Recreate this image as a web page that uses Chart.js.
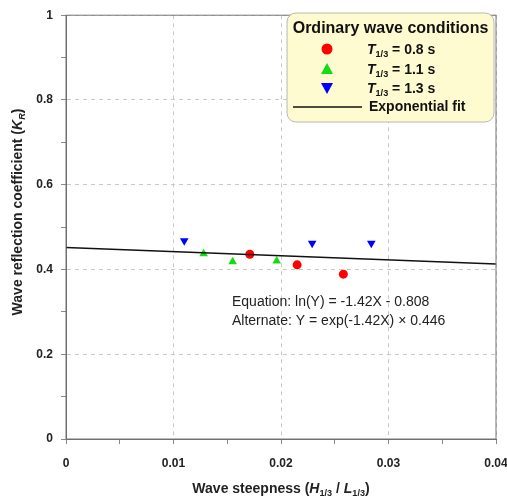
<!DOCTYPE html>
<html lang="en">
<head>
    <title>Wave reflection</title>
    <script src="https://cdn.jsdelivr.net/npm/chart.js"></script>
    <style>
        body { margin: 0; background: #fff; }
        #wrap { width: 507px; height: 498px; }
    </style>
</head>
<body>
    <div id="wrap"><canvas id="chart"></canvas></div>
    <script>
        // data
        const redX = [0.0171, 0.0215, 0.0258];
        const redY = [0.436, 0.411, 0.389];
        const greenX = [0.0128, 0.0155, 0.0196];
        const greenY = [0.437, 0.418, 0.420];
        const blueX = [0.0110, 0.0229, 0.0284];
        const blueY = [0.468, 0.462, 0.462];
        const fitX = [0, 0.04];
        const fitY = [0.452, 0.413];
        const legendLabels = ['0.8 s', '1.1 s', '1.3 s'];
        const equationLines = ['Equation: ln(Y) = -1.42X - 0.808', 'Alternate: Y = exp(-1.42X) \u00d7 0.446'];

        const FONT = '"Liberation Sans", Arial, sans-serif';
        const pts = (xs, ys) => xs.map((x, i) => ({ x: x, y: ys[i] }));

        // draws text made of pieces, some italic / subscript
        function richWidth(ctx, parts, size) {
            let w = 0;
            parts.forEach(p => {
                const s = p.sub ? size * 0.65 : size;
                ctx.font = (p.italic ? 'italic ' : '') + 'bold ' + s + 'px ' + FONT;
                w += ctx.measureText(p.t).width;
            });
            return w;
        }
        function drawRich(ctx, parts, x, y, size) {
            ctx.textBaseline = 'alphabetic';
            ctx.textAlign = 'left';
            parts.forEach(p => {
                const s = p.sub ? size * 0.65 : size;
                ctx.font = (p.italic ? 'italic ' : '') + 'bold ' + s + 'px ' + FONT;
                ctx.fillText(p.t, x, y + (p.sub ? size * 0.22 : 0));
                x += ctx.measureText(p.t).width;
            });
        }

        const extras = {
            id: 'extras',
            afterDraw(chart) {
                const ctx = chart.ctx;
                const a = chart.chartArea;
                ctx.save();
                // frame
                ctx.strokeStyle = '#777';
                ctx.lineWidth = 1;
                ctx.strokeRect(a.left, a.top, a.right - a.left, a.bottom - a.top);

                ctx.fillStyle = '#222';
                // x title
                const xt = [{ t: 'Wave steepness (' }, { t: 'H', italic: true }, { t: '1/3', sub: true },
                    { t: ' / ' }, { t: 'L', italic: true }, { t: '1/3', sub: true }, { t: ')' }];
                const xw = richWidth(ctx, xt, 14);
                drawRich(ctx, xt, (a.left + a.right) / 2 - xw / 2, 493, 14);
                // y title
                const yt = [{ t: 'Wave reflection coefficient (' }, { t: 'K', italic: true },
                    { t: 'R', italic: true, sub: true }, { t: ')' }];
                const yw = richWidth(ctx, yt, 14);
                ctx.save();
                ctx.translate(22, 212);
                ctx.rotate(-Math.PI / 2);
                drawRich(ctx, yt, -yw / 2, 0, 14);
                ctx.restore();

                // equation text
                ctx.font = '14px ' + FONT;
                ctx.textAlign = 'left';
                ctx.textBaseline = 'middle';
                ctx.fillStyle = '#222';
                equationLines.forEach((s, i) => ctx.fillText(s, 232, 302 + i * 19));

                // legend box
                const bx = 287, by = 13, bw = 207, bh = 109;
                ctx.beginPath();
                ctx.roundRect(bx, by, bw, bh, 9);
                ctx.fillStyle = '#fdfbcf';
                ctx.fill();
                ctx.strokeStyle = '#b8b8b0';
                ctx.stroke();
                ctx.fillStyle = '#111';
                ctx.font = 'bold 16px ' + FONT;
                ctx.textAlign = 'center';
                ctx.textBaseline = 'middle';
                ctx.fillText('Ordinary wave conditions', bx + bw / 2, 29);

                const rows = [49, 69, 88];
                const mx = 327;
                // markers
                ctx.fillStyle = '#ff0000';
                ctx.beginPath(); ctx.arc(mx, rows[0], 5.5, 0, Math.PI * 2); ctx.fill();
                ctx.fillStyle = '#11dd11';
                ctx.beginPath(); ctx.moveTo(mx, rows[1] - 6); ctx.lineTo(mx + 6, rows[1] + 5); ctx.lineTo(mx - 6, rows[1] + 5); ctx.fill();
                ctx.fillStyle = '#0000ff';
                ctx.beginPath(); ctx.moveTo(mx, rows[2] + 6); ctx.lineTo(mx + 6, rows[2] - 5); ctx.lineTo(mx - 6, rows[2] - 5); ctx.fill();
                ctx.fillStyle = '#111';
                legendLabels.forEach((lab, i) => {
                    drawRich(ctx, [{ t: 'T', italic: true }, { t: '1/3', sub: true }, { t: ' = ' + lab }], 367, rows[i] + 5, 14);
                });
                ctx.strokeStyle = '#111';
                ctx.lineWidth = 1.3;
                ctx.beginPath(); ctx.moveTo(293, 107); ctx.lineTo(362, 107); ctx.stroke();
                ctx.font = 'bold 14px ' + FONT;
                ctx.textAlign = 'left';
                ctx.textBaseline = 'middle';
                ctx.fillText('Exponential fit', 369, 107);
                ctx.restore();
            }
        };

        const isMajor = (v, step) => Math.abs(Math.round(v / step) * step - v) < 1e-9;

        new Chart(document.getElementById('chart'), {
            type: 'scatter',
            data: {
                datasets: [
                    {
                        type: 'line', data: pts(fitX, fitY), borderColor: '#111', borderWidth: 1.5,
                        pointRadius: 0, fill: false
                    },
                    { data: pts(redX, redY), backgroundColor: '#ff0000', borderWidth: 0, pointRadius: 4.5, pointStyle: 'circle' },
                    { data: pts(greenX, greenY), backgroundColor: '#11dd11', borderWidth: 0, pointRadius: 5, pointStyle: 'triangle' },
                    { data: pts(blueX, blueY), backgroundColor: '#0000ff', borderWidth: 0, pointRadius: 5, pointStyle: 'triangle', rotation: 180 }
                ]
            },
            options: {
                responsive: true,
                maintainAspectRatio: false,
                animation: false,
                layout: { padding: { top: 11, right: 11, left: 0, bottom: 0 } },
                plugins: { legend: { display: false }, tooltip: { enabled: false } },
                scales: {
                    x: {
                        type: 'linear', min: 0, max: 0.04,
                        afterFit: s => { s.height = 59; s.paddingLeft = 0; s.paddingRight = 0; },
                        ticks: {
                            stepSize: 0.005, autoSkip: false, maxRotation: 0, padding: 12,
                            color: '#222', font: { family: FONT, size: 12, weight: 'bold' },
                            callback: v => isMajor(v, 0.01) ? (v === 0 ? '0' : v.toFixed(2)) : ''
                        },
                        grid: {
                            color: c => (c.tick && isMajor(c.tick.value, 0.01)) ? '#c8c8c8' : 'rgba(0,0,0,0)',
                            tickColor: '#888', tickLength: 5
                        },
                        border: { color: '#666', dash: [4, 4] }
                    },
                    y: {
                        type: 'linear', min: 0, max: 1,
                        afterFit: s => { s.width = 66; },
                        ticks: {
                            stepSize: 0.1, autoSkip: false, padding: 8,
                            color: '#222', font: { family: FONT, size: 12, weight: 'bold' },
                            callback: v => isMajor(v, 0.2) ? String(Math.round(v * 10) / 10) : ''
                        },
                        grid: {
                            color: c => (c.tick && isMajor(c.tick.value, 0.2)) ? '#c8c8c8' : 'rgba(0,0,0,0)',
                            tickColor: '#888', tickLength: 5
                        },
                        border: { color: '#666', dash: [4, 4] }
                    }
                }
            },
            plugins: [extras]
        });
    </script>
</body>
</html>
